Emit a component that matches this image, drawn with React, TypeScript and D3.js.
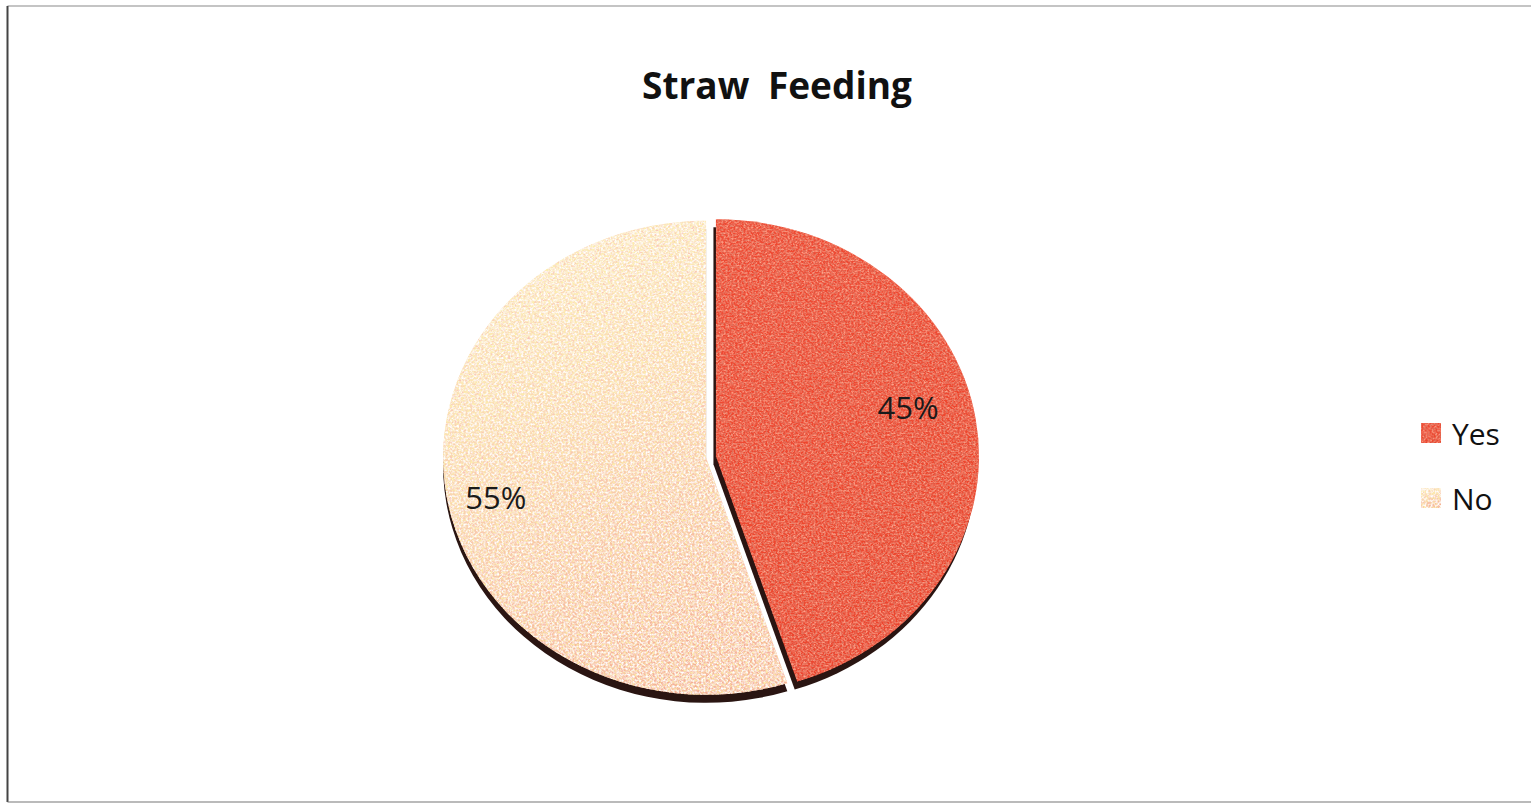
import React from "react";
import * as d3 from "d3";

// Chart data
const categories = ["Yes", "No"];
const values = [45, 55];
const percentLabels = ["45%", "55%"];
const chartTitle = "Straw Feeding";

// Layout
const W = 1531;
const H = 804;
const CX = 711;
const CY = 457;
const RX = 263;
const RY = 237;
const EXPLODE = 5;
const DEPTH = 8;
const labelNudge: [number, number][] = [
  [0, -22],
  [-18, 12],
];

const topFill = ["url(#gradYes)", "url(#gradNo)"];
const grainFilter = ["url(#grainYes)", "url(#grainNo)"];

export default function App() {
  const pie = d3
    .pie<number>()
    .sort(null)
    .startAngle(0)
    .endAngle(2 * Math.PI)
    .value((d) => d);
  const slices = pie(values);

  const arc = d3.arc<d3.PieArcDatum<number>>().innerRadius(0).outerRadius(RX);
  const labelArc = d3
    .arc<d3.PieArcDatum<number>>()
    .innerRadius(RX * 0.74)
    .outerRadius(RX * 0.74);
  const sy = RY / RX;

  const legendY = d3
    .scalePoint<string>()
    .domain(categories)
    .range([433, 498]);

  const centerOf = (s: d3.PieArcDatum<number>) => {
    const mid = (s.startAngle + s.endAngle) / 2;
    return [CX + EXPLODE * Math.sin(mid), CY - EXPLODE * Math.cos(mid)];
  };

  return (
    <svg
      width={W}
      height={H}
      style={{ position: "absolute", left: 0, top: 0, background: "#fff" }}
      fontFamily="'Open Sans', sans-serif"
    >
      <defs>
        <linearGradient id="gradYes" x1="0" y1="0" x2="0.3" y2="1">
          <stop offset="0" stopColor="#f04a31" />
          <stop offset="1" stopColor="#ec452e" />
        </linearGradient>
        <linearGradient id="gradNo" x1="0.2" y1="0" x2="0.5" y2="1">
          <stop offset="0" stopColor="#fdf4d6" />
          <stop offset="0.35" stopColor="#fbe2b8" />
          <stop offset="0.7" stopColor="#f7c3a2" />
          <stop offset="1" stopColor="#f4b094" />
        </linearGradient>
        <filter id="grainYes" x="0" y="0" width="100%" height="100%">
          <feTurbulence type="fractalNoise" baseFrequency="0.5" numOctaves="2" seed="4" result="noise" />
          <feColorMatrix
            in="noise"
            type="matrix"
            values="0 0 0 0 0.68  0 0 0 0 0.18  0 0 0 0 0.12  2.4 0 0 0 -1.05"
            result="dark"
          />
          <feColorMatrix
            in="noise"
            type="matrix"
            values="0 0 0 0 1  0 0 0 0 0.38  0 0 0 0 0.26  0 2.4 0 0 -1.0"
            result="light"
          />
          <feComposite in="dark" in2="SourceGraphic" operator="in" result="darkIn" />
          <feComposite in="light" in2="SourceGraphic" operator="in" result="lightIn" />
          <feMerge>
            <feMergeNode in="SourceGraphic" />
            <feMergeNode in="lightIn" />
            <feMergeNode in="darkIn" />
          </feMerge>
        </filter>
        <filter id="grainNo" x="0" y="0" width="100%" height="100%">
          <feTurbulence type="fractalNoise" baseFrequency="0.45" numOctaves="2" seed="11" result="noise" />
          <feColorMatrix
            in="noise"
            type="matrix"
            values="0 0 0 0 0.95  0 0 0 0 0.55  0 0 0 0 0.47  2.6 0 0 0 -1.0"
            result="pink"
          />
          <feColorMatrix
            in="noise"
            type="matrix"
            values="0 0 0 0 0.98  0 0 0 0 0.86  0 0 0 0 0.4  0 2.6 0 0 -1.05"
            result="yellow"
          />
          <feColorMatrix
            in="noise"
            type="matrix"
            values="0 0 0 0 1  0 0 0 0 1  0 0 0 0 1  0 0 2.6 0 -1.05"
            result="white"
          />
          <feComposite in="pink" in2="SourceGraphic" operator="in" result="pinkIn" />
          <feComposite in="yellow" in2="SourceGraphic" operator="in" result="yellowIn" />
          <feComposite in="white" in2="SourceGraphic" operator="in" result="whiteIn" />
          <feMerge>
            <feMergeNode in="SourceGraphic" />
            <feMergeNode in="pinkIn" />
            <feMergeNode in="yellowIn" />
            <feMergeNode in="whiteIn" />
          </feMerge>
        </filter>
      </defs>

      {/* frame */}
      <line x1={7.5} y1={6} x2={W} y2={6} stroke="#8a8a8a" strokeWidth={1.2} />
      <line x1={7.5} y1={6} x2={7.5} y2={802} stroke="#444" strokeWidth={2} />
      <line x1={7.5} y1={802} x2={W} y2={802} stroke="#777" strokeWidth={1.2} />

      {/* title */}
      <text
        x={777}
        y={99}
        textAnchor="middle"
        fontSize={37}
        fontWeight={700}
        fill="#111"
        wordSpacing={9}
      >
        {chartTitle}
      </text>

      {/* slice thickness */}
      {slices.map((s, i) => {
        const [ox, oy] = centerOf(s);
        const dx = i === 0 ? -2.5 : 0;
        return (
          <path
            key={"depth" + i}
            d={arc(s) ?? ""}
            transform={`translate(${ox + dx},${oy + DEPTH}) scale(1,${sy})`}
            fill="#2a1512"
          />
        );
      })}

      {/* slice tops */}
      {slices.map((s, i) => {
        const [ox, oy] = centerOf(s);
        return (
          <g key={"top" + i} transform={`translate(${ox},${oy}) scale(1,${sy})`}>
            <path d={arc(s) ?? ""} fill={topFill[i]} filter={grainFilter[i]} />
          </g>
        );
      })}

      {/* percentage labels */}
      {slices.map((s, i) => {
        const [ox, oy] = centerOf(s);
        const [lx, ly] = labelArc.centroid(s);
        return (
          <text
            key={"lbl" + i}
            x={ox + lx + labelNudge[i][0]}
            y={oy + ly * sy + labelNudge[i][1]}
            textAnchor="middle"
            dominantBaseline="central"
            fontSize={31}
            fill="#1a1a1a"
          >
            {percentLabels[i]}
          </text>
        );
      })}

      {/* legend */}
      {categories.map((c, i) => {
        const y = legendY(c) ?? 0;
        return (
          <g key={"leg" + c}>
            <rect
              x={1421}
              y={y - 10}
              width={20}
              height={20}
              fill={topFill[i]}
              filter={grainFilter[i]}
            />
            <text x={1452} y={y} dominantBaseline="central" fontSize={30} fill="#111">
              {c}
            </text>
          </g>
        );
      })}
    </svg>
  );
}
